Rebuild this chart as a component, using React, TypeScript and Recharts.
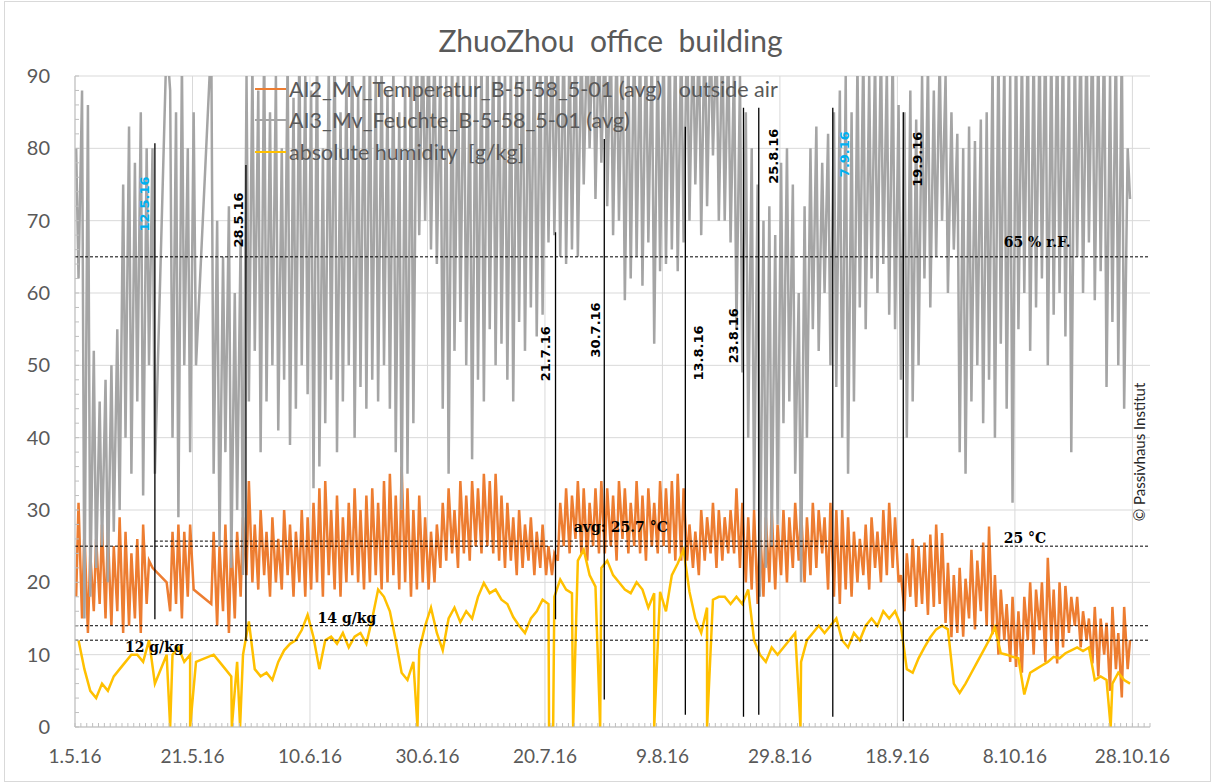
import React from "react";
import {
  LineChart,
  Line,
  XAxis,
  YAxis,
  CartesianGrid,
  ReferenceLine,
  ReferenceDot,
} from "recharts";

// x axis is days since 1.5.16
const xTickLabels = ["1.5.16", "21.5.16", "10.6.16", "30.6.16", "20.7.16", "9.8.16", "29.8.16", "18.9.16", "8.10.16", "28.10.16"];
const xMajor = [0, 20, 40, 60, 80, 100, 120, 140, 160, 180];
const yMajor = [0, 10, 20, 30, 40, 50, 60, 70, 80, 90];

// outside air temperature, daily high / low [°C]
const tempHigh = [
  31, 27, 24, 26, 28, 27, 25, 29, 27, 24,
  26, 28, 23, null, null, 20, 27, 28, 27, 28,
  null, null, null, 27, 25, 28, 26, 27, 29, 34,
  28, 30, 27, 29, 26, 30, 28, 27, 30, 29,
  31, 33, 34, 30, 32, 29, 31, 33, 30, 32,
  33, 31, 34, 35, 32, 36, 33, 30, 32, 29,
  27, 28, 31, 33, 30, 34, 32, 34, 33, 35,
  34, 35, 32, 31, 29, 30, 28, 29, 27, 28,
  25, 24, 31, 33, 32, 34, 33, 31, 33, 34,
  33, 32, 34, 33, 31, 34, 32, 33, 31, 34,
  33, 34, 35, 33, 28, 27, 30, 29, 31, 30,
  29, 30, 33, 31, 29, 30, 28, 29, 30, 28,
  30, 29, 31, 30, 29, 31, 30, 29, 31, 30,
  30, 29, 27, 26, 28, 29, 27, 30, 31, 29,
  21, 24, 26, 25, 25.5, 26.6, 28, 26.8, 22.7, 21,
  22, 20.5, 24.5, 23, 25.5, 27.7, 21, 19, 17, 18,
  16, 18, 20, 19, 20, 23.4, 19, 20, 19.5, 18,
  18, 16, 15, 16.6, 15, 14.4, 16.6, 13, 16.6, 12,
];
const tempLow = [
  18, 15, 13, 16, 17, 15, 14, 16, 13, 14,
  15, 13, 17, 22, null, null, 16, 17, 15, 18,
  19, null, null, 17, 14, 16, 13, 15, 18, 21,
  20, 19, 21, 18, 20, 19, 21, 18, 20, 18,
  19, 20, 18, 21, 19, 18, 20, 21, 20, 19,
  20, 21, 19, 20, 21, 19, 20, 18, 19, 20,
  19, 20, 22, 23, 24, 22, 24, 23, 25, 24,
  25, 24, 23, 22, 23, 21, 22, 23, 21, 22,
  21, 21, 23, 25, 24, 26, 24, 23, 25, 24,
  24, 25, 23, 26, 24, 25, 24, 23, 25, 24,
  25, 24, 23, 23, 23, 22, 21, 23, 24, 22,
  23, 24, 24, 22, 20, 19, 17, 18, 20, 19,
  21, 20, 22, 23, 20, 21, 22, 24, 19, 18,
  17, 19, 18, 20, 21, 19, 22, 20, 21, 22,
  20, 16, 18, 16.6, 17, 15.5, 16.6, 17, 14.4, 12.4,
  13, 12.5, 15, 13.5, 16, 14, 12.8, 10, 12, 9,
  8.3, 7.5, 12, 10, 13.4, 9, 12, 8.8, 11, 13,
  14, 11, 12, 8.8, 7, 10, 5, 8, 4.1, 8,
];

// relative humidity, daily high / low [%]
const rhHigh = [
  80, 88, 86, 52, 45, 48, 50, 55, 75, 83,
  78, 85, 80, 80, null, null, 88, 85, 92, 80,
  85, null, null, 95, 70, 65, 72, 60, 68, 90,
  92, 88, 95, 85, 90, 80, 93, 87, 95, 90,
  88, 95, 80, 92, 96, 85, 90, 95, 88, 93,
  95, 90, 93, 88, 92, 85, 90, 94, 96, 98,
  96, 95, 92, 90, 95, 93, 96, 90, 94, 95,
  96, 94, 95, 92, 93, 95, 97, 94, 96, 95,
  97, 98, 96, 97, 95, 98, 96, 97, 98, 97,
  96, 97, 95, 96, 94, 97, 95, 96, 94, 95,
  96, 97, 95, 96, 98, 97, 96, 98, 97, 96,
  96, 95, 92, 90, 85, 80, 75, 70, 72, 68,
  78, 80, 75, 60, 72, 80, 83, 78, 82, 85,
  88, 90, 85, 92, 94, 90, 93, 95, 91, 94,
  86, 85, 88, 84, 90, 92, 88, 93, 90, 85,
  82, 80, 83, 81, 84, 85, 92, 95, 93, 90,
  96, 94, 97, 95, 96, 98, 95, 97, 96, 94,
  95, 97, 96, 98, 95, 97, 90, 96, 95, 80,
];
const rhLow = [
  62, 15, 18, 22, 25, 20, 27, 30, 40, 35,
  45, 32, 50, 35, null, 95, 40, 29, 50, 38,
  50, null, null, 35, 25, 38, 22, 30, 21, 45,
  52, 38, 45, 50, 41, 48, 39, 44, 50, 46,
  33, 36, 42, 48, 38, 45, 50, 40, 47, 44,
  48, 45, 50, 44, 38, 30, 35, 42, 68, 70,
  66, 64, 44, 35, 52, 56, 50, 37, 48, 45,
  55, 50, 53, 48, 45, 56, 52, 58, 54, 57,
  67, 68, 65, 64, 66, 65, 75, 80, 73, 78,
  72, 68, 70, 59, 62, 65, 61, 67, 53, 63,
  64, 66, 63, 67, 70, 75, 68, 72, 79, 70,
  70, 67, 55, 49, 40, 30, 18, 22, 25, 28,
  42, 45, 35, 20, 40, 55, 52, 60, 50, 47,
  40, 35, 45, 58, 55, 62, 60, 64, 57, 55,
  48, 40, 45, 50, 62, 58, 65, 70, 60, 66,
  38, 35, 45, 50, 42, 48, 40, 53, 44, 31,
  55, 60, 52, 58, 62, 50, 57, 60, 54, 38,
  65, 60, 67, 59, 63, 47, 56, 50, 44, 73,
];

// absolute humidity, daily [g/kg]
const absHum = [
  12, 8, 5, 4, 6, 5, 7, 8, 9, 10,
  10, 9, 12, 6, null, 10, 10, 11, 9, 10,
  9, null, null, 10, 9, 8, 7, 9, 10, 14.6,
  8, 7, 7.5, 6.5, 9, 10.6, 11.5, 12, 13.4, 15.5,
  12.4, 8, 12, 12.5, 11.5, 13, 11, 12.5, 13, 11.5,
  15, 19, 18, 16, 12, 7.5, 6.5, 9, 10.6, 14,
  16.5, 13, 10.6, 15, 16.5, 14.5, 16, 15, 18, 19.9,
  18.5, 19, 17.6, 17, 15.2, 14, 13, 15, 16, 17.6,
  17, 18, 20.4, 19, 18.5, 23, 24.5, 21, 19.4, 22,
  23, 21, 20, 19, 18.5, 20, 19, 16.5, 18.5, 18.7,
  16, 21, 22.6, 24.5, 18.7, 15, 13, 16.5, 17.6, 18,
  18, 17, 18, 17, 19, 12, 10, 9, 11, 10,
  11, 12, 13, 9, 12, 13, 14, 13, 14, 15,
  12, 11, 13, 12, 14, 15, 14, 16, 15, 16,
  14, 8, 7.5, 9.5, 11, 12.4, 13.5, 14, 13.5, 6,
  4.7, 6, 7.5, 9, 10.5, 12, 13.8, 10.2, 10, 9.7,
  9.5, 4.5, 7.5, 8, 8.5, 9, 9.7, 9.5, 10.2, 10.6,
  11, 10.5, 11, 6.5, 7, 6.5, 6, 7.5, 6.5, 6,
];
// sensor drop-outs of the absolute humidity (day, value 0)
const absDropDays = [16.2, 19.6, 26.7, 28.1, 58.3, 80.7, 81.0, 81.4, 84.8, 89.4, 98.6, 107.6, 123.5, 176.3];

// vertical markers
const markerDates = ["12.5.16", "28.5.16", "21.7.16", "30.7.16", "13.8.16", "23.8.16", "25.8.16", "7.9.16", "19.9.16"];
const markerDay = [13.6, 29.1, 81.8, 90.1, 103.9, 113.8, 116.4, 129, 141];
const markerTop = [80.7, 77.7, 68.4, 81.3, 83, 85.6, 85.6, 85.6, 85];
const markerBottom = [14.9, 12, 14.9, 3.8, 1.7, 1.4, 1.7, 1.4, 0.8];
const markerLabelAt = [72.3, 70.1, 51.6, 54.9, 51.7, 54.1, 78.9, 79.2, 78.5];

// horizontal limits
const limitValues = [65, 25, 14, 12];
const avgTemp = 25.7;
const avgSpan = [13.6, 129];

const notes = ["65 % r.F.", "25 °C", "avg: 25.7 °C", "14 g/kg", "12 g/kg"];
const noteDay = [158.1, 158.1, 84.9, 41.3, 8.5];
const noteValue = [66.3, 25.5, 26.9, 14.4, 10.4];

const legendNames = [
  "AI2_Mv_Temperatur_B-5-58_5-01 (avg)   outside air",
  "AI3_Mv_Feuchte_B-5-58_5-01 (avg)",
  "absolute humidity  [g/kg]",
];

// layout / style only
const markerLabelDx = [-10, -7, -10, -9, 13, -10, 15, 12, 14];
const markerColor = ["#00B0F0", "#000", "#000", "#000", "#000", "#000", "#000", "#00B0F0", "#000"];
const seriesColors = ["#ED7D31", "#A5A5A5", "#FFC000"];
const legendRowY = [89, 120, 152];

type Row = { t: number; temp: number | null; rh: number | null; ah: number | null };

const rows: Row[] = [];
tempHigh.forEach((_, d) => {
  rows.push({ t: d + 0.2, temp: tempLow[d], rh: rhHigh[d], ah: null });
  rows.push({ t: d + 0.6, temp: tempHigh[d], rh: rhLow[d], ah: absHum[d] });
});
absDropDays.forEach((t) => rows.push({ t, temp: null, rh: null, ah: 0 }));
rows.sort((a, b) => a.t - b.t);

const minorX = Array.from({ length: 184 }, (_, i) => i);
const minorY = Array.from({ length: 46 }, (_, i) => i * 2);

const FONT = "Lato, 'Open Sans', sans-serif";

export default function App() {
  return (
    <div
      style={{
        position: "absolute",
        left: 0,
        top: 0,
        width: 1213,
        height: 783,
        background: "#fff",
        fontFamily: FONT,
      }}
    >
      <div
        style={{
          position: "absolute",
          left: 4,
          top: 1,
          width: 1205,
          height: 779,
          border: "1px solid #d9d9d9",
        }}
      />
      <div
        style={{
          position: "absolute",
          left: 8,
          top: 21,
          width: 1205,
          textAlign: "center",
          fontSize: 30,
          lineHeight: "38px",
          color: "#595959",
          whiteSpace: "pre",
        }}
      >
        ZhuoZhou  office  building
      </div>

      <LineChart
        width={1213}
        height={783}
        data={rows}
        margin={{ top: 76, right: 63, bottom: 16, left: 15 }}
        style={{ position: "absolute", left: 0, top: 0 }}
      >
        <CartesianGrid
          xAxisId="x"
          yAxisId="y"
          stroke="#d9d9d9"
          horizontalValues={yMajor}
          verticalValues={xMajor}
        />
        <XAxis
          xAxisId="x"
          dataKey="t"
          type="number"
          domain={[0, 183]}
          ticks={minorX}
          interval={0}
          height={40}
          tickSize={-4}
          tickMargin={27}
          tickLine={{ stroke: "#bfbfbf" }}
          axisLine={{ stroke: "#bfbfbf" }}
          tickFormatter={(v: number) => (v % 20 === 0 ? xTickLabels[v / 20] : "")}
          tick={{ fill: "#595959", fontSize: 19, fontFamily: FONT }}
        />
        <YAxis
          yAxisId="y"
          type="number"
          domain={[0, 90]}
          allowDataOverflow
          ticks={minorY}
          interval={0}
          width={60}
          tickSize={-4}
          tickMargin={29}
          tickLine={{ stroke: "#bfbfbf" }}
          axisLine={{ stroke: "#bfbfbf" }}
          tickFormatter={(v: number) => (v % 10 === 0 ? String(v) : "")}
          tick={{ fill: "#595959", fontSize: 20, fontFamily: FONT }}
        />

        <Line xAxisId="x" yAxisId="y" dataKey="temp" stroke={seriesColors[0]} strokeWidth={2.5} dot={false} connectNulls isAnimationActive={false} />
        <Line xAxisId="x" yAxisId="y" dataKey="rh" stroke={seriesColors[1]} strokeWidth={2.5} dot={false} connectNulls isAnimationActive={false} />
        <Line xAxisId="x" yAxisId="y" dataKey="ah" stroke={seriesColors[2]} strokeWidth={2.5} dot={false} connectNulls isAnimationActive={false} />

        {limitValues.map((v) => (
          <ReferenceLine key={"l" + v} xAxisId="x" yAxisId="y" y={v} stroke="#000" strokeWidth={1} strokeDasharray="3 2" />
        ))}
        <ReferenceLine
          xAxisId="x"
          yAxisId="y"
          segment={[
            { x: avgSpan[0], y: avgTemp },
            { x: avgSpan[1], y: avgTemp },
          ]}
          stroke="#000"
          strokeWidth={1}
          strokeDasharray="3 2"
        />

        {markerDay.map((d, i) => (
          <ReferenceLine
            key={"m" + i}
            xAxisId="x"
            yAxisId="y"
            segment={[
              { x: d, y: markerBottom[i] },
              { x: d, y: markerTop[i] },
            ]}
            stroke="#000"
            strokeWidth={1.3}
          />
        ))}

        {markerDay.map((d, i) => (
          <ReferenceDot
            key={"ml" + i}
            xAxisId="x"
            yAxisId="y"
            x={d}
            y={markerLabelAt[i]}
            r={1}
            shape={(p: any) => {
              const x = p.cx + markerLabelDx[i];
              return (
                <text
                  x={x}
                  y={p.cy}
                  transform={`rotate(-90 ${x} ${p.cy})`}
                  textAnchor="middle"
                  dominantBaseline="central"
                  fontFamily="'DejaVu Sans', sans-serif"
                  fontWeight="bold"
                  fontSize={13}
                  fill={markerColor[i]}
                >
                  {markerDates[i]}
                </text>
              );
            }}
          />
        ))}

        {notes.map((n, i) => (
          <ReferenceDot
            key={"n" + i}
            xAxisId="x"
            yAxisId="y"
            x={noteDay[i]}
            y={noteValue[i]}
            r={1}
            shape={(p: any) => (
              <text
                x={p.cx}
                y={p.cy}
                textAnchor="start"
                fontFamily="'DejaVu Serif', serif"
                fontWeight="bold"
                fontSize={14}
                fill="#000"
                style={{ whiteSpace: "pre" }}
              >
                {n}
              </text>
            )}
          />
        ))}
      </LineChart>

      {legendNames.map((name, i) => (
        <div
          key={name}
          style={{
            position: "absolute",
            left: 255,
            top: legendRowY[i] - 13,
            height: 26,
            display: "flex",
            alignItems: "center",
            whiteSpace: "pre",
            fontSize: 21.5,
            color: "#595959",
          }}
        >
          <span style={{ display: "inline-block", width: 31, height: 2.5, background: seriesColors[i], marginRight: 3 }} />
          {name}
        </div>
      ))}

      <div
        style={{
          position: "absolute",
          left: 1139,
          top: 452,
          transform: "translate(-50%, -50%) rotate(-90deg)",
          whiteSpace: "nowrap",
          fontSize: 15,
          color: "#262626",
        }}
      >
        © Passivhaus Institut
      </div>
    </div>
  );
}
